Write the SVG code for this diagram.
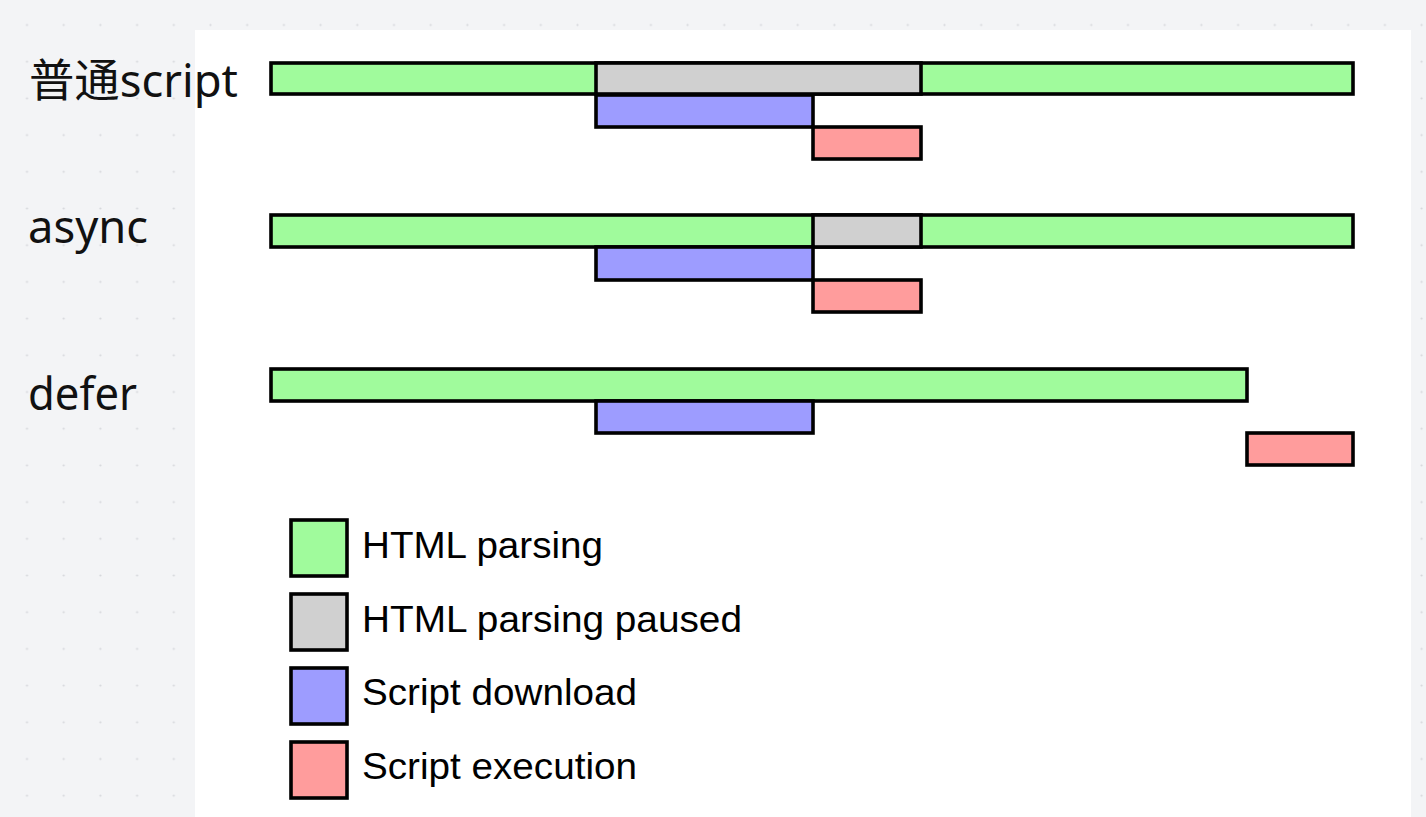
<svg xmlns="http://www.w3.org/2000/svg" width="1426" height="817" viewBox="0 0 1426 817">
  <defs>
    <pattern id="dots" patternUnits="userSpaceOnUse" x="8.65" y="6.65" width="36.7" height="36.7">
      <circle cx="18.35" cy="18.35" r="1.1" fill="#d6d7db"/>
    </pattern>
    <style>
      .bar { stroke: #000; stroke-width: 3.6; }
      .parse { fill: #a0fb9c; }
      .pause { fill: #d0d0d0; }
      .dl { fill: #9d9cff; }
      .exec { fill: #ff9c9c; }
      .row-label { font-family: "Noto Sans", "Noto Sans CJK SC", sans-serif; font-size: 45px; fill: #111; }
      .legend-text { font-family: "Liberation Sans", Arial, sans-serif; font-size: 36px; fill: #000; }
    </style>
  </defs>

  <rect x="0" y="0" width="1426" height="817" fill="#f3f4f6"/>
  <rect x="0" y="0" width="1426" height="817" fill="url(#dots)"/>
  <rect x="195" y="30" width="1216" height="787" fill="#ffffff"/>

  <g id="label-normal">
    <text class="row-label" x="29" y="97" textLength="209" lengthAdjust="spacingAndGlyphs">普通script</text>
  </g>
  <g id="label-async">
    <text class="row-label" x="28" y="243" textLength="120" lengthAdjust="spacingAndGlyphs">async</text>
  </g>
  <g id="label-defer">
    <text class="row-label" x="28" y="410" textLength="109" lengthAdjust="spacingAndGlyphs">defer</text>
  </g>

  <g id="row-normal">
    <rect class="bar parse" x="271" y="63" width="1082" height="31"/>
    <rect class="bar pause" x="596" y="63" width="325" height="31"/>
    <rect class="bar dl" x="596" y="95" width="217" height="32"/>
    <rect class="bar exec" x="813" y="127" width="108" height="32"/>
  </g>

  <g id="row-async">
    <rect class="bar parse" x="271" y="215" width="1082" height="32"/>
    <rect class="bar pause" x="813" y="215" width="108" height="32"/>
    <rect class="bar dl" x="596" y="247" width="217" height="33"/>
    <rect class="bar exec" x="813" y="280" width="108" height="32"/>
  </g>

  <g id="row-defer">
    <rect class="bar parse" x="271" y="369" width="976" height="32"/>
    <rect class="bar dl" x="596" y="401" width="217" height="32"/>
    <rect class="bar exec" x="1247" y="433" width="106" height="32"/>
  </g>

  <g id="legend">
    <rect class="bar parse" x="291" y="520" width="56" height="56"/>
    <text class="legend-text" x="362" y="558" textLength="241" lengthAdjust="spacingAndGlyphs">HTML parsing</text>
    <rect class="bar pause" x="291" y="594" width="56" height="56"/>
    <text class="legend-text" x="362" y="632" textLength="380" lengthAdjust="spacingAndGlyphs">HTML parsing paused</text>
    <rect class="bar dl" x="291" y="668" width="56" height="56"/>
    <text class="legend-text" x="362" y="705" textLength="275" lengthAdjust="spacingAndGlyphs">Script download</text>
    <rect class="bar exec" x="291" y="742" width="56" height="56"/>
    <text class="legend-text" x="362" y="779" textLength="275" lengthAdjust="spacingAndGlyphs">Script execution</text>
  </g>
</svg>
